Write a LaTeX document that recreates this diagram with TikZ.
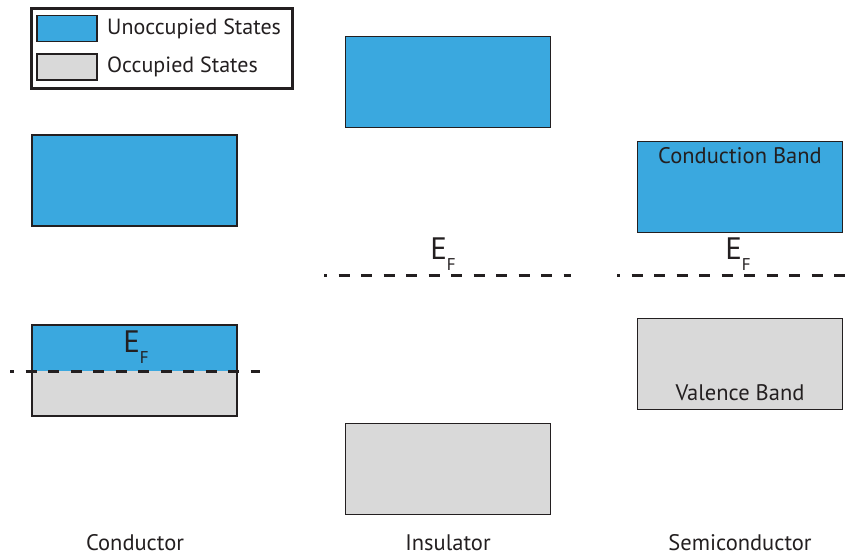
\documentclass[tikz,border=0pt]{standalone}
\usepackage{fontspec}
\setmainfont{PT Sans}
\definecolor{bandblue}{HTML}{3AA8DF}
\definecolor{bandgray}{HTML}{D9D9D9}
\definecolor{edge}{HTML}{231F20}
\begin{document}
\begin{tikzpicture}[x=1pt,y=-1pt,
  band/.style={draw=edge,line width=1.6pt,minimum width=205pt,minimum height=91pt,inner sep=0pt,outer sep=0pt},
  unocc/.style={band,fill=bandblue},
  occ/.style={band,fill=bandgray},
  swatch/.style={draw=edge,line width=1.6pt,minimum width=60pt,minimum height=26pt,inner sep=0pt},
  fermi/.style={draw=edge,line width=3pt,dash pattern=on 11pt off 11.5pt},
  lbl/.style={font=\fontsize{22.5}{26}\selectfont,text=edge,inner sep=0pt},
  collbl/.style={lbl,anchor=base,text depth=0pt},
  legtxt/.style={font=\fontsize{22}{26}\selectfont,text=edge,anchor=west,inner sep=0pt},
  ef/.style={font=\fontsize{31}{34}\selectfont,text=edge,inner sep=0pt}]
\useasboundingbox (0,0) rectangle (854,557);
% legend
\node[draw=edge,line width=3pt,minimum width=261pt,minimum height=80pt,inner sep=0pt] (legend) at (161.5,48) {};
\node[swatch,fill=bandblue] (sw1) at (67,28.5) {};
\node[swatch,fill=bandgray] (sw2) at (67,67) {};
\node[legtxt] (t1) at (107,29) {Unoccupied States};
\node[legtxt] (t2) at (107,67) {Occupied States};
% conductor
\node[unocc] (ctop) at (134.5,180.5) {};
\fill[bandblue] (32,325) rectangle (237,371);
\fill[bandgray] (32,371) rectangle (237,416);
\node[band] (cbot) at (134.5,370.5) {};
\coordinate (cl) at (10,371);
\coordinate (cr) at (260,371);
\draw[fermi,dash phase=7pt] (cl) -- (cr);
\node[ef] (cef) at (136,347) {E\raisebox{-0.35em}{\fontsize{17}{20}\selectfont F}};
\node[collbl] (clab) at (135,550) {Conductor};
% insulator
\node[unocc] (itop) at (448,82) {};
\node[occ] (ibot) at (448,469) {};
\coordinate (il) at (324,275);
\coordinate (ir) at (571,275);
\draw[fermi,dash phase=8pt] (il) -- (ir);
\node[ef] (ief) at (443,254) {E\raisebox{-0.35em}{\fontsize{17}{20}\selectfont F}};
\node[collbl] (ilab) at (448,550) {Insulator};
% semiconductor
\node[unocc] (stop) at (740,187) {};
\node[lbl,anchor=north] (cb) at (740,147) {Conduction Band};
\node[occ] (sbot) at (740,364) {};
\node[lbl] (vb) at (740,393) {Valence Band};
\coordinate (sl) at (617,275);
\coordinate (sr) at (849,275);
\draw[fermi,dash phase=8pt] (sl) -- (sr);
\node[ef] (sef) at (738,254) {E\raisebox{-0.35em}{\fontsize{17}{20}\selectfont F}};
\node[collbl] (slab) at (740,550) {Semiconductor};
\end{tikzpicture}
\end{document}
